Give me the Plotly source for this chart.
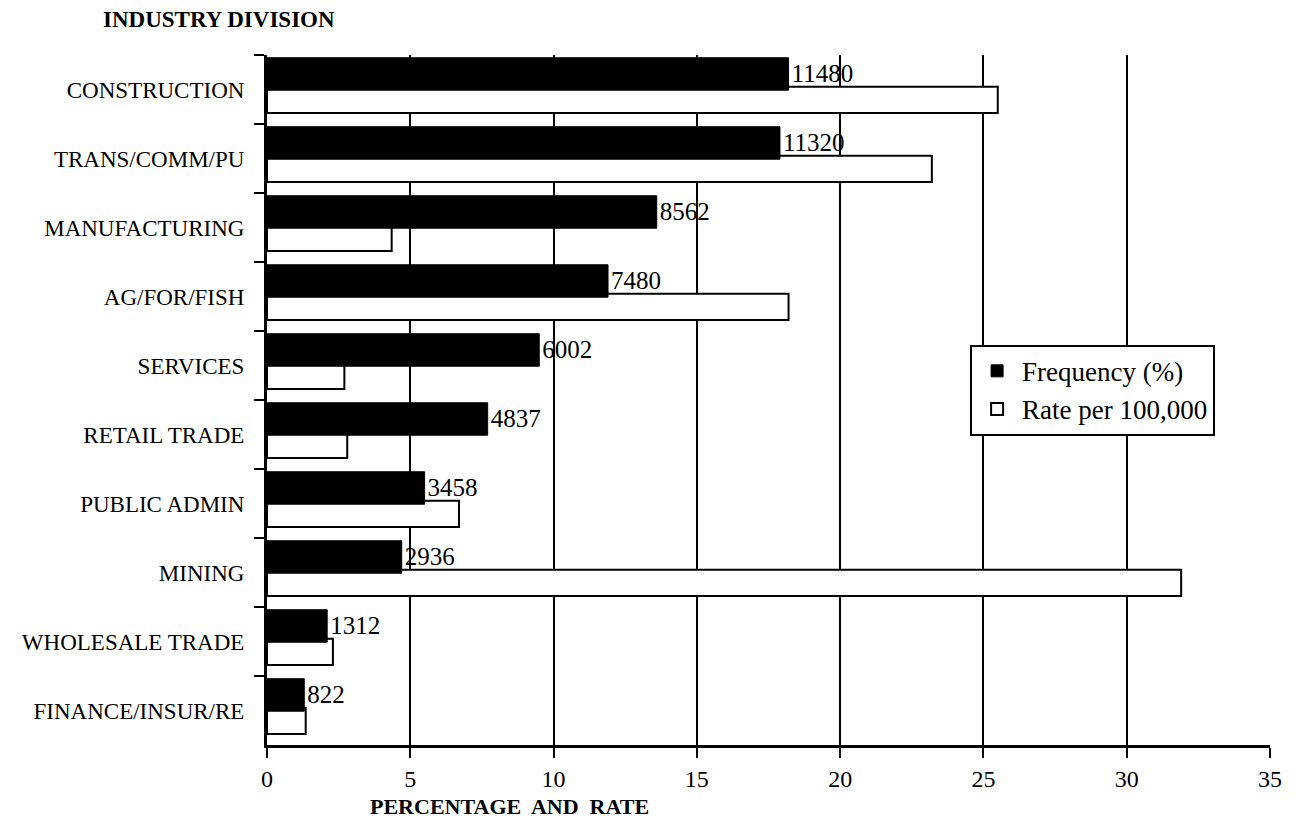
import plotly.graph_objects as go

industries = ["CONSTRUCTION", "TRANS/COMM/PU", "MANUFACTURING", "AG/FOR/FISH", "SERVICES",
              "RETAIL TRADE", "PUBLIC ADMIN", "MINING", "WHOLESALE TRADE", "FINANCE/INSUR/RE"]
frequency_pct = [18.2, 17.9, 13.6, 11.9, 9.5, 7.7, 5.5, 4.7, 2.1, 1.3]
rate_per_100k = [25.5, 23.2, 4.35, 18.2, 2.7, 2.8, 6.7, 31.9, 2.3, 1.35]
counts = [11480, 11320, 8562, 7480, 6002, 4837, 3458, 2936, 1312, 822]

serif = "Liberation Serif, Times New Roman, serif"

fig = go.Figure()

# white bars (rate) sit lower in each band, black bars overlap on top
fig.add_trace(go.Bar(
    y=industries, x=rate_per_100k, orientation="h",
    name="Rate per 100,000",
    marker=dict(color="white", line=dict(color="black", width=2)),
    offset=-0.04, width=0.38,
))
fig.add_trace(go.Bar(
    y=industries, x=frequency_pct, orientation="h",
    name="Frequency (%)",
    marker=dict(color="black", line=dict(color="black", width=1)),
    offset=-0.46, width=0.47,
    text=[str(c) for c in counts], textposition="outside",
    textfont=dict(family=serif, size=25, color="black"),
    cliponaxis=False,
))

# page body has an 8px margin, so the figure is 8px smaller to fit the window
fig.update_layout(
    barmode="overlay",
    width=1293, height=822,
    margin=dict(l=259, r=31, t=47, b=85),
    paper_bgcolor="white", plot_bgcolor="white",
    font=dict(family=serif, color="black"),
    legend=dict(
        x=0.701, y=0.58, xanchor="left", yanchor="top",
        traceorder="reversed", itemwidth=40,
        bordercolor="black", borderwidth=2, bgcolor="white",
        font=dict(family=serif, size=27),
    ),
    xaxis=dict(
        range=[0, 35], tickvals=[0, 5, 10, 15, 20, 25, 30, 35],
        showgrid=True, gridcolor="black", gridwidth=1.5,
        showline=True, linecolor="black", linewidth=3,
        ticks="outside", ticklen=10, tickwidth=2, tickcolor="black",
        tickfont=dict(family=serif, size=24),
        zeroline=False,
    ),
    yaxis=dict(
        autorange="reversed",
        showline=True, linecolor="black", linewidth=3,
        ticks="outside", ticklen=10, tickwidth=2, tickcolor="black",
        tickson="boundaries", ticklabelstandoff=15,
        tickfont=dict(family=serif, size=23),
        showgrid=False,
    ),
    annotations=[
        dict(text="<b>INDUSTRY DIVISION</b>", xref="paper", yref="paper",
             x=-0.166, y=1.0, yshift=36, xanchor="left", yanchor="middle",
             showarrow=False, font=dict(family=serif, size=23)),
        dict(text="<b>PERCENTAGE  AND  RATE</b>", xref="paper", yref="paper",
             x=0.242, y=0, yshift=-61, xanchor="center", yanchor="middle",
             showarrow=False, font=dict(family=serif, size=22)),
    ],
)

fig.write_html("out.html")
